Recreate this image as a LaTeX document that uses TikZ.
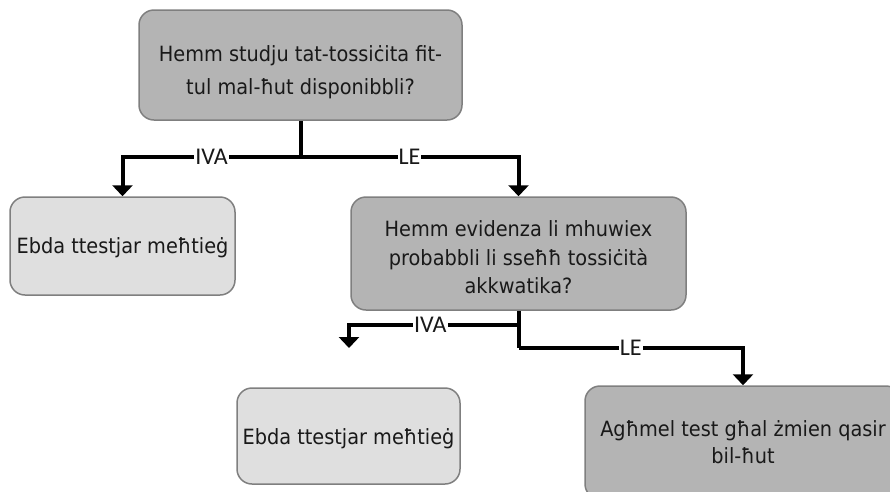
\documentclass[tikz,border=0pt]{standalone}
\usepackage{fontspec}
\setmainfont{DejaVu Sans}[FakeStretch=0.92]
\newfontfamily\lblfont{Carlito}
\usetikzlibrary{arrows.meta}
\definecolor{darkbox}{HTML}{B4B4B4}
\definecolor{lightbox}{HTML}{DFDFDF}
\definecolor{boxline}{HTML}{7F7F7F}
\tikzset{
  box/.style={draw=boxline, line width=1.5pt, rounded corners=15pt, inner sep=0pt},
  darkb/.style={box, fill=darkbox},
  lightb/.style={box, fill=lightbox},
  txt/.style={anchor=base, inner sep=0pt, text=black!90, font=\fontsize{21}{24}\selectfont},
  conn/.style={line width=4pt, black},
  arr/.style={conn, -{Triangle[width=20pt,length=11pt]}},
  lbl/.style={fill=white, inner sep=1pt, font=\lblfont\fontsize{24}{26}\selectfont, text=black!90}
}
\begin{document}
\begin{tikzpicture}[x=1pt,y=-1pt]
\useasboundingbox (0,0) rectangle (890,491);
\clip (0,0) rectangle (890,491);
% boxes
\node[darkb, minimum width=323pt, minimum height=110pt] (top) at (300.5,65) {};
\node[lightb, minimum width=225pt, minimum height=98pt] (left) at (122.5,246) {};
\node[darkb, minimum width=335pt, minimum height=113pt] (mid) at (518.5,253.5) {};
\node[lightb, minimum width=223pt, minimum height=96pt] (bl) at (348.5,436) {};
\node[darkb, minimum width=316pt, minimum height=113pt] (br) at (743,442.5) {};
% texts
\node[txt] (t1a) at (300.5,61) {Hemm studju tat-tossiċita fit-};
\node[txt] (t1b) at (300.5,94) {tul mal-ħut disponibbli?};
\node[txt] (t2) at (122.5,253) {Ebda ttestjar meħtieġ};
\node[txt] (t3a) at (518.5,236) {Hemm evidenza li mhuwiex};
\node[txt] (t3b) at (518.5,265) {probabbli li sseħħ tossiċità};
\node[txt] (t3c) at (518.5,293) {akkwatika?};
\node[txt] (t4) at (348.5,444) {Ebda ttestjar meħtieġ};
\node[txt] (t5a) at (743,436) {Agħmel test għal żmien qasir};
\node[txt] (t5b) at (743,463) {bil-ħut};
% connectors
\coordinate (j1) at (300.5,157);
\coordinate (j2) at (518.5,325);
\coordinate (j3) at (518.5,348);
\coordinate (e1) at (349,348);
\draw[conn] (top.south) -- (j1);
\draw[arr] (j1) -| node[lbl, pos=0.25] {IVA} (left.north);
\draw[arr] (j1) -| node[lbl, pos=0.25] {LE} (mid.north);
\draw[conn] (mid.south) -- (j3);
\draw[arr] (j2) -| node[lbl, pos=0.26] {IVA} (e1);
\draw[arr] (j3) -| node[lbl, pos=0.25] {LE} (br.north);
\end{tikzpicture}
\end{document}
